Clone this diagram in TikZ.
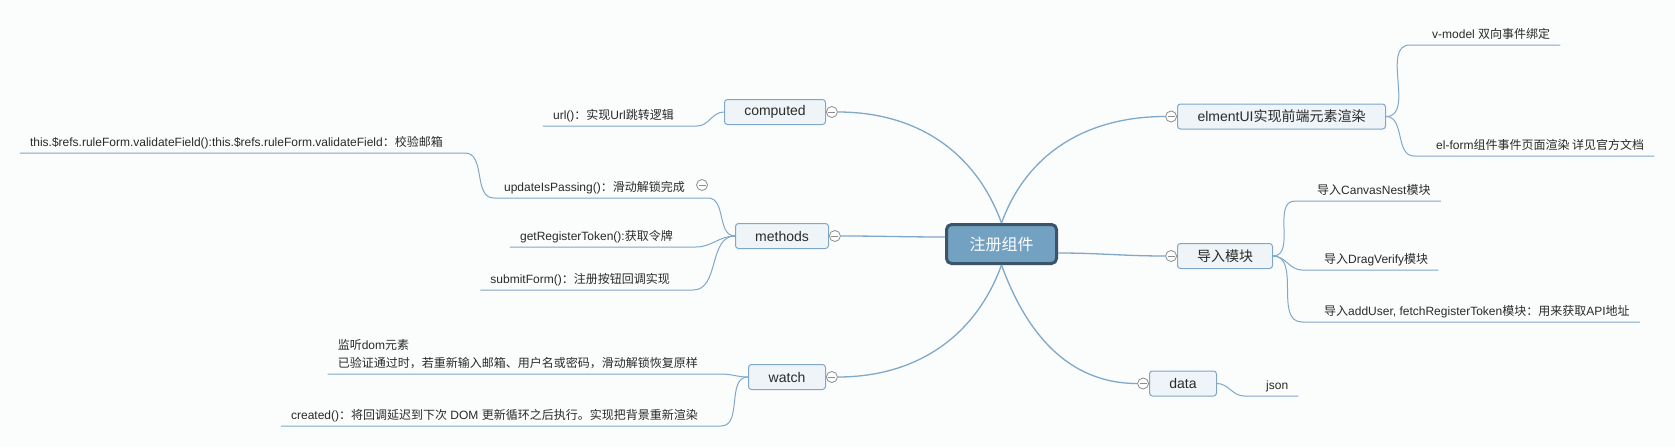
\documentclass[tikz,border=0pt]{standalone}
\usepackage{fontspec}
\setmainfont{Liberation Sans}
\newfontfamily\cjk{Noto Sans CJK SC}
\usetikzlibrary{positioning,calc}
\newcommand{\zh}[1]{{\cjk #1}}
\definecolor{hubfill}{HTML}{73A1C2}
\definecolor{hubline}{HTML}{3B5467}
\definecolor{boxfill}{HTML}{EEF4F8}
\definecolor{boxline}{HTML}{7FA7C7}
\definecolor{linkblue}{HTML}{80A8C9}
\definecolor{foldgray}{HTML}{8C8C8C}
\definecolor{inkgray}{HTML}{2A2A2A}
\definecolor{paper}{HTML}{FBFCFC}

\begin{document}
\begin{tikzpicture}[x=1pt,y=1pt,
  hub/.style={draw=hubline, line width=3pt, fill=hubfill, rounded corners=5pt,
    text=white, font=\fontsize{16}{16}\selectfont\cjk,
    minimum width=110pt, minimum height=39pt, inner sep=0pt},
  branch/.style={draw=boxline, line width=1pt, fill=boxfill, rounded corners=3pt,
    text=inkgray, font=\fontsize{14}{14}\selectfont, minimum height=25pt, inner sep=0pt},
  leaf/.style={text=inkgray, font=\fontsize{12}{18}\selectfont, inner sep=0pt},
  limb/.style={linkblue, line width=1.3pt},
  twig/.style={linkblue, line width=1pt},
  fold/.style={circle, draw=foldgray, fill=white, line width=0.8pt, minimum size=11pt,
    inner sep=0pt, path picture={\draw[foldgray, line width=0.8pt]
      ([xshift=-3.5pt]path picture bounding box.center) --
      ([xshift=3.5pt]path picture bounding box.center);}}]
\fill[paper] (0,0) rectangle (1675,-447);

% centre and main branches
\node[hub] (reg) at (1001.5,-244) {注册组件};
\node[branch, minimum width=101pt] (computed) at (775,-112) {computed};
\node[branch, minimum width=93pt] (methods) at (782,-236) {methods};
\node[branch, minimum width=77pt] (watch) at (787,-377) {watch};
\node[branch, minimum width=208pt] (elm) at (1281.5,-116.5) {elmentUI\zh{实现前端元素渲染}};
\node[branch, minimum width=95pt] (imp) at (1225,-256) {\zh{导入模块}};
\node[branch, minimum width=67pt] (data) at (1183,-383.5) {data};

\node[fold, right=0pt of computed] (fcomp) {};
\node[fold, right=0pt of methods] (fmeth) {};
\node[fold, right=0pt of watch] (fwatch) {};
\node[fold, left=0pt of elm] (felm) {};
\node[fold, left=0pt of imp] (fimp) {};
\node[fold, left=0pt of data] (fdata) {};

\draw[limb] (reg.north) to[out=110,in=0] (fcomp.east);
\draw[limb] (reg.north) to[out=70,in=180] (felm.west);
\draw[limb] ([yshift=7pt]reg.west) to[out=180,in=0] (fmeth.east);
\draw[limb] ([yshift=-9pt]reg.east) to[out=0,in=180] (fimp.west);
\draw[limb] (reg.south) to[out=250,in=0] (fwatch.east);
\draw[limb] (reg.south) to[out=290,in=180] (fdata.west);

% left leaves
\node[leaf, anchor=base east] (url) at (674,-119) {url()\zh{：实现}Url\zh{跳转逻辑}};
\node[leaf, anchor=base east] (pass) at (685,-191) {updateIsPassing()\zh{：滑动解锁完成}};
\node[leaf, anchor=base east] (token) at (673,-240) {getRegisterToken():\zh{获取令牌}};
\node[leaf, anchor=base east] (submit) at (670,-283) {submitForm()\zh{：注册按钮回调实现}};
\node[leaf, anchor=base east] (valid) at (443,-146)
  {this.\$refs.ruleForm.validateField():this.\$refs.ruleForm.validateField\zh{：校验邮箱}};
\node[leaf, anchor=base east] (dom) at (698,-367)
  {\begin{tabular}[b]{@{}l@{}}\zh{监听}dom\zh{元素}\\
   \zh{已验证通过时，若重新输入邮箱、用户名或密码，滑动解锁恢复原样}\end{tabular}};
\node[leaf, anchor=base east] (tick) at (698,-419)
  {created()\zh{：将回调延迟到下次} DOM \zh{更新循环之后执行。实现把背景重新渲染}};
\node[fold] (fpass) at ($(pass.base east)+(17,6)$) {};

% right leaves
\node[leaf, anchor=base west] (vmodel) at (1432,-38) {v-model \zh{双向事件绑定}};
\node[leaf, anchor=base west] (elform) at (1436,-149) {el-form\zh{组件事件页面渲染 详见官方文档}};
\node[leaf, anchor=base west] (canvas) at (1317,-194) {\zh{导入}CanvasNest\zh{模块}};
\node[leaf, anchor=base west] (drag) at (1324,-263) {\zh{导入}DragVerify\zh{模块}};
\node[leaf, anchor=base west] (api) at (1324,-315)
  {\zh{导入}addUser, fetchRegisterToken\zh{模块：用来获取}API\zh{地址}};
\node[leaf, anchor=base west] (json) at (1266,-389) {json};

\foreach \n/\b in {url/computed, pass/methods, token/methods, submit/methods, dom/watch, tick/watch}
  \draw[twig] ($(\n.base west)+(-10,-7)$) -- ($(\n.base east)+(23,-7)$)
    to[out=0,in=180] (\b.west);
\foreach \n/\b in {vmodel/elm, elform/elm, canvas/imp, drag/imp, api/imp, json/data}
  \draw[twig] (\b.east) to[out=0,in=180] ($(\n.base west)+(-22,-7)$)
    -- ($(\n.base east)+(10,-7)$);
\draw[twig] ($(valid.base west)+(-10,-7)$) -- ($(valid.base east)+(22,-7)$)
  to[out=0,in=180] ($(pass.base west)+(-10,-7)$);

\end{tikzpicture}
\end{document}
